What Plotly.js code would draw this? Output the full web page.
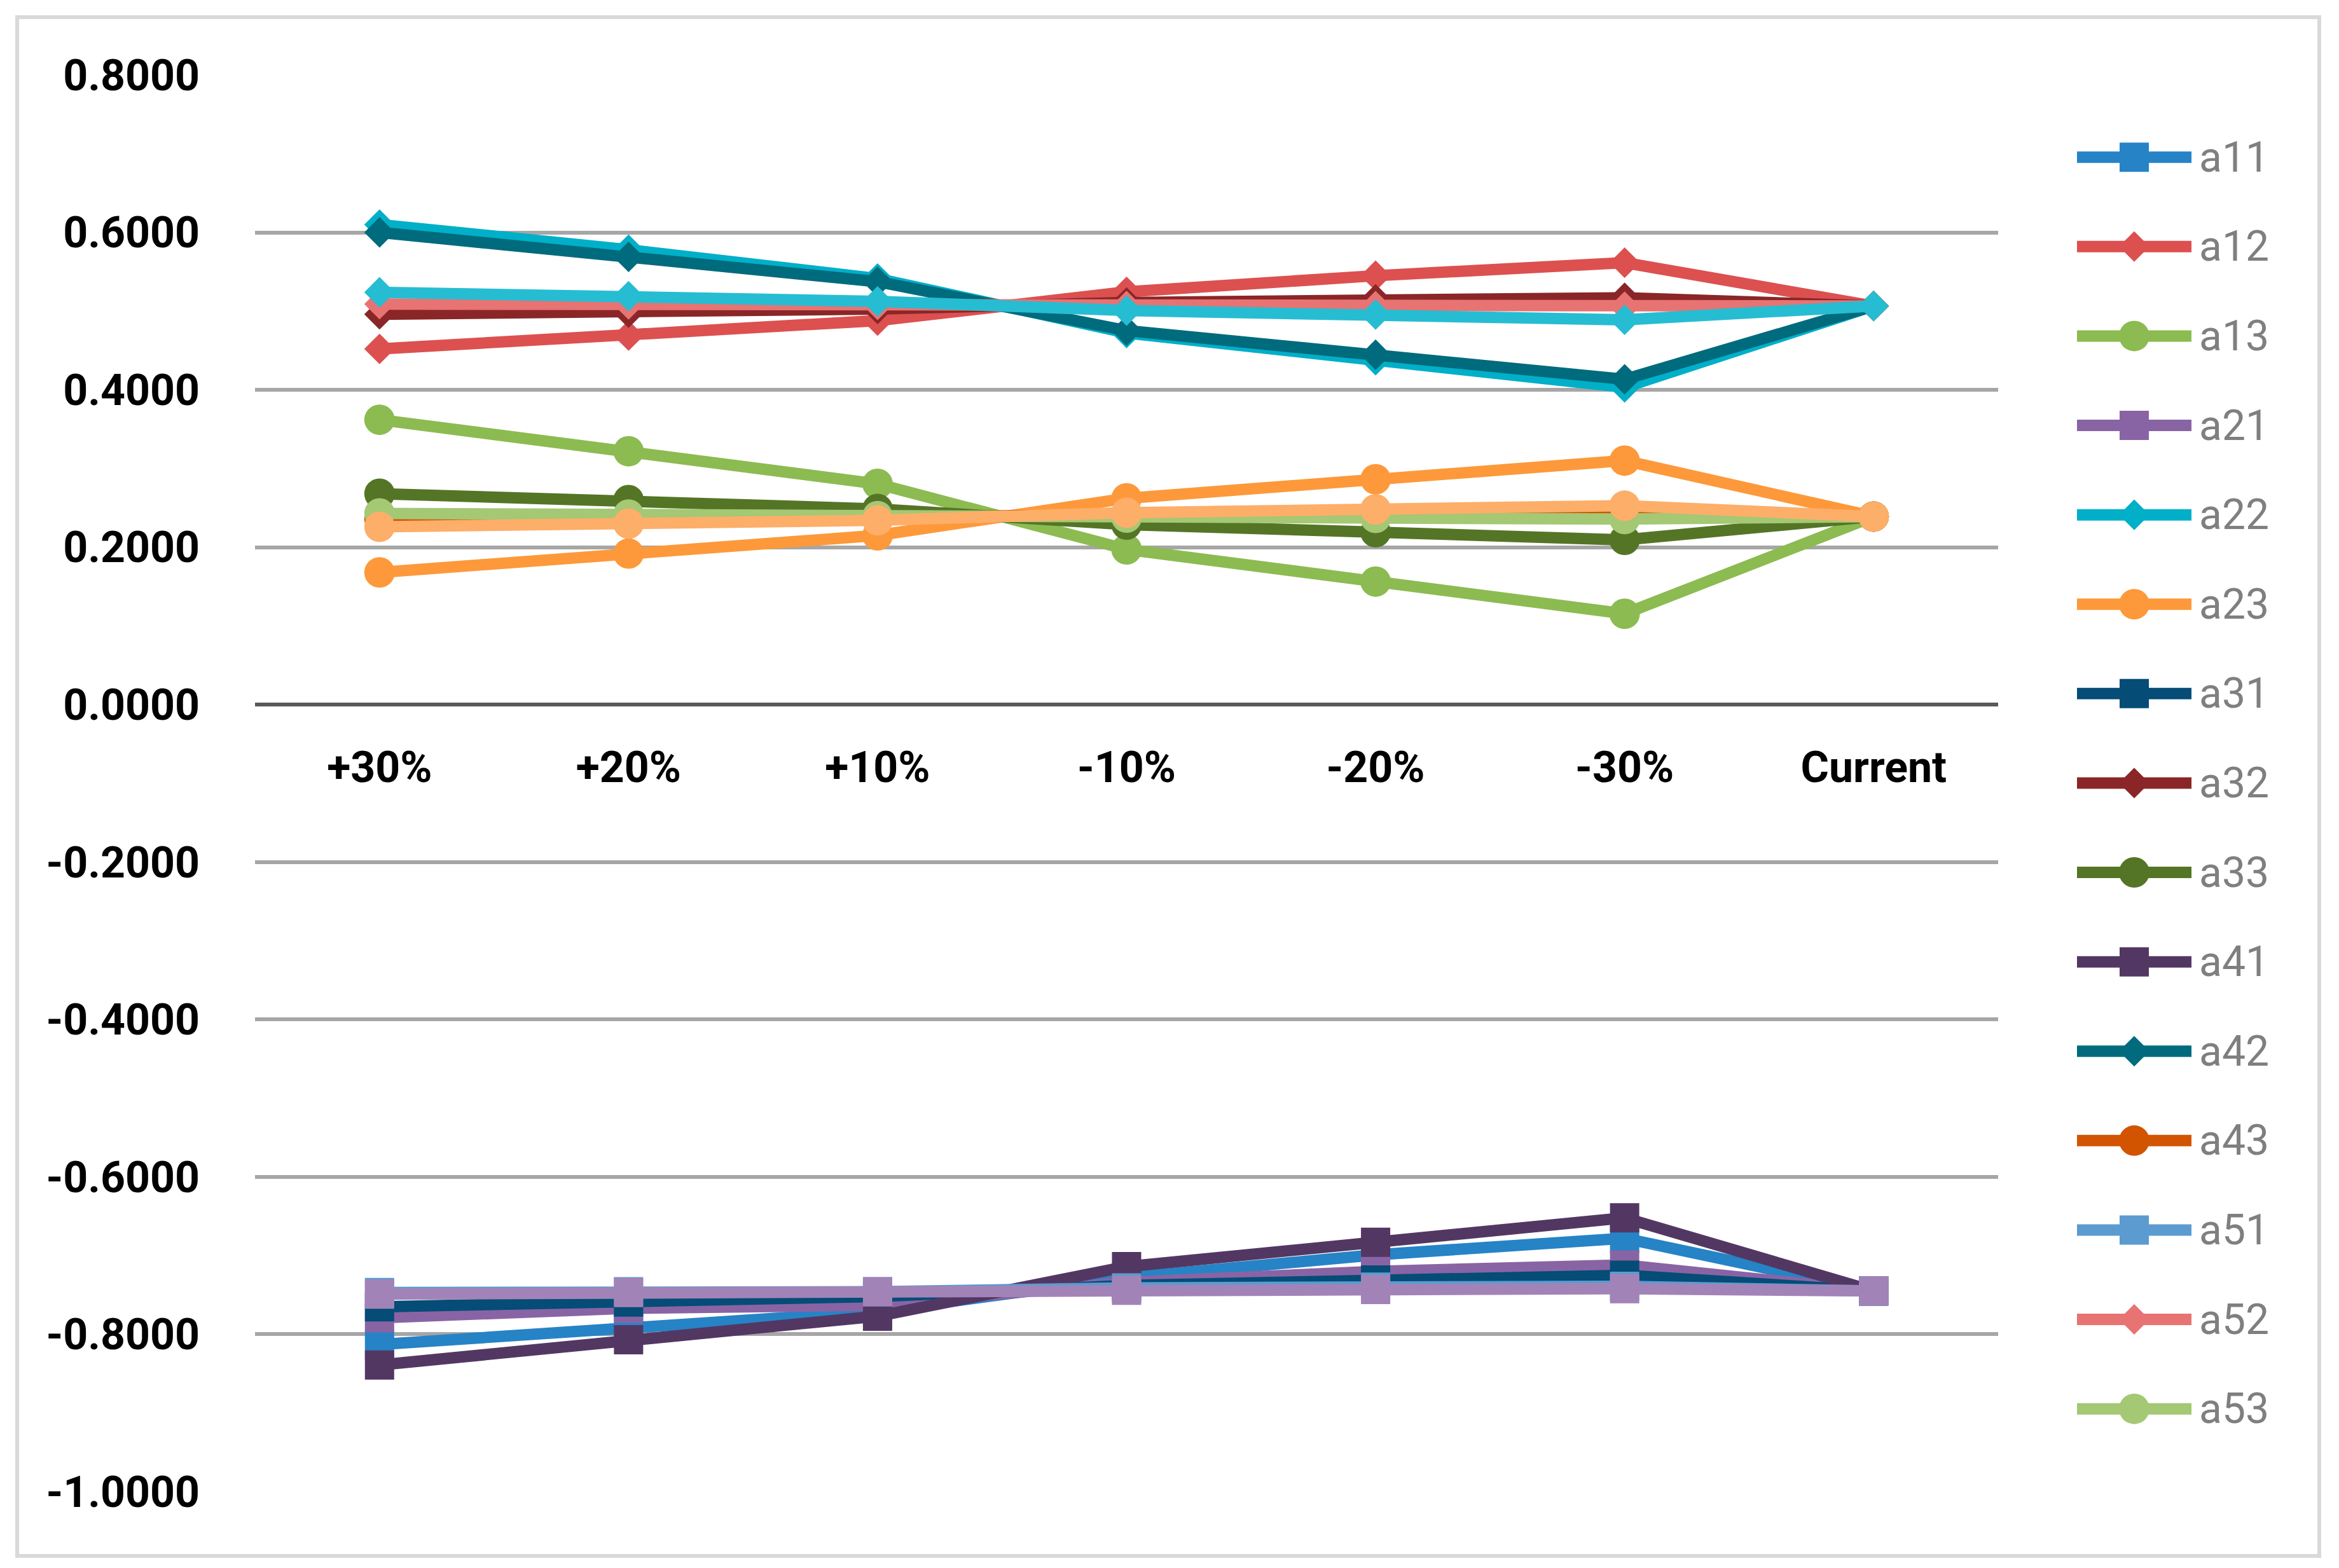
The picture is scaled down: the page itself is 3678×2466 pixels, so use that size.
<!DOCTYPE html>
<html>
<head>
<meta charset="utf-8">
<script src="https://cdn.plot.ly/plotly-3.0.1.min.js"></script>
<style>html,body{margin:0;padding:0;background:#fff;}#chart{width:3678px;height:2466px;}</style>
</head>
<body>
<div id="chart"></div>
<script>
// ---- data ----
const categories = ['+30%', '+20%', '+10%', '-10%', '-20%', '-30%', 'Current'];

const a11 = [-0.813, -0.791, -0.771, -0.728, -0.699, -0.678, -0.745];
const a12 = [0.452, 0.469, 0.488, 0.5245, 0.545, 0.5616, 0.5065];
const a13 = [0.362, 0.322, 0.2805, 0.1973, 0.1564, 0.1155, 0.239];
const a21 = [-0.779, -0.767, -0.763, -0.734, -0.720, -0.712, -0.745];
const a22 = [0.610, 0.578, 0.5414, 0.4723, 0.4376, 0.4032, 0.5065];
const a23 = [0.168, 0.192, 0.2151, 0.2622, 0.2864, 0.3101, 0.239];
const a31 = [-0.765, -0.759, -0.752, -0.738, -0.731, -0.725, -0.745];
const a32 = [0.496, 0.498, 0.5027, 0.511, 0.515, 0.517, 0.5065];
const a33 = [0.268, 0.260, 0.2487, 0.2288, 0.2191, 0.2094, 0.239];
const a41 = [-0.839, -0.807, -0.777, -0.714, -0.683, -0.652, -0.745];
const a42 = [0.600, 0.569, 0.5374, 0.4753, 0.4446, 0.4134, 0.5065];
const a43 = [0.236, 0.237, 0.238, 0.241, 0.243, 0.244, 0.239];
const a51 = [-0.747, -0.746, -0.746, -0.741, -0.740, -0.739, -0.745];
const a52 = [0.509, 0.5085, 0.508, 0.5065, 0.5063, 0.5056, 0.5065];
const a53 = [0.243, 0.2415, 0.2396, 0.2377, 0.2372, 0.2358, 0.239];
const a61 = [-0.749, -0.747, -0.746, -0.744, -0.743, -0.742, -0.745];
const a62 = [0.524, 0.519, 0.5124, 0.5008, 0.4957, 0.489, 0.5065];
const a63 = [0.226, 0.230, 0.2342, 0.2439, 0.2482, 0.2528, 0.239];

const seriesNames = ['a11','a12','a13','a21','a22','a23','a31','a32','a33','a41','a42','a43','a51','a52','a53','a61','a62','a63'];
const seriesValues = [a11,a12,a13,a21,a22,a23,a31,a32,a33,a41,a42,a43,a51,a52,a53,a61,a62,a63];
const legendNames = ['a11','a12','a13','a21','a22','a23','a31','a32','a33','a41','a42','a43','a51','a52','a53'];

const yTickVals = [0.8, 0.6, 0.4, 0.2, 0.0, -0.2, -0.4, -0.6, -0.8, -1.0];
const yTickText = ['0.8000', '0.6000', '0.4000', '0.2000', '0.0000', '-0.2000', '-0.4000', '-0.6000', '-0.8000', '-1.0000'];

// ---- styles ----
const colors = {
  a11:'#2683C6', a12:'#DD5050', a13:'#8CBB51',
  a21:'#8964A4', a22:'#01AFC8', a23:'#FD993A',
  a31:'#054C77', a32:'#8A2627', a33:'#547526',
  a41:'#533763', a42:'#006B7D', a43:'#D35400',
  a51:'#5B9BD0', a52:'#E87373', a53:'#A4C874',
  a61:'#A283B8', a62:'#26BDD3', a63:'#FDAE69'
};
const symbolFor = n => ({'1':'square','2':'diamond','3':'circle'})[n.charAt(2)];
const sizeFor = s => s === 'diamond' ? 37 : (s === 'square' ? 46 : 48);
const LW = 18;
const FONT = 'Roboto, "Liberation Sans", sans-serif';

const traces = [];
seriesNames.forEach((name, i) => {
  const sym = symbolFor(name);
  traces.push({
    type: 'scatter', mode: 'lines+markers', name: name,
    x: categories, y: seriesValues[i],
    xaxis: 'x', yaxis: 'y',
    line: {color: colors[name], width: LW},
    marker: {symbol: sym, size: sizeFor(sym), color: colors[name], opacity: 1, line: {width: 0}},
    cliponaxis: false, hoverinfo: 'skip'
  });
});

// custom legend, drawn on its own small axes
const annotations = [];
legendNames.forEach((name, i) => {
  const sym = symbolFor(name);
  traces.push({
    type: 'scatter', mode: 'lines+markers', name: name + ' legend',
    x: [0, 1, 2], y: [-i, -i, -i],
    xaxis: 'x2', yaxis: 'y2',
    line: {color: colors[name], width: LW},
    marker: {symbol: sym, size: [0, sizeFor(sym), 0], color: colors[name], opacity: 1, line: {width: 0}},
    cliponaxis: false, hoverinfo: 'skip', showlegend: false
  });
  annotations.push({
    xref: 'x2', yref: 'y2', x: 2, y: -i, xshift: 10,
    xanchor: 'left', yanchor: 'middle', showarrow: false,
    text: name, font: {family: FONT, size: 66, color: '#7F7F7F'}
  });
});

const layout = {
  width: 3678, height: 2466,
  margin: {l: 0, r: 0, t: 0, b: 0, pad: 0},
  paper_bgcolor: '#FFFFFF', plot_bgcolor: '#FFFFFF',
  showlegend: false,
  xaxis: {
    type: 'category', range: [-0.5, 6.5],
    domain: [0.10903, 0.85427],
    anchor: 'free', position: 0.55069,
    showline: true, linecolor: '#595959', linewidth: 6,
    showgrid: false, zeroline: false, ticks: '',
    ticklabelstandoff: 37,
    tickfont: {family: FONT, size: 68, color: '#000000', weight: 'bold'},
    automargin: false, fixedrange: true
  },
  yaxis: {
    range: [-1.0, 0.8], domain: [0.04866, 0.95215],
    tickmode: 'array', tickvals: yTickVals, ticktext: yTickText,
    showgrid: true, gridcolor: '#A6A6A6', gridwidth: 6,
    zeroline: false, showline: false, ticks: '',
    ticklabelstandoff: 86,
    tickfont: {family: FONT, size: 68, color: '#000000', weight: 'bold'},
    automargin: false, fixedrange: true
  },
  xaxis2: {
    domain: [0.88798, 0.94182], range: [0, 2.2], anchor: 'y2',
    visible: false, fixedrange: true
  },
  yaxis2: {
    domain: [0.04866, 0.95215], range: [-14.927, 0.919], anchor: 'x2',
    visible: false, fixedrange: true
  },
  annotations: annotations,
  shapes: [{
    type: 'rect', xref: 'paper', yref: 'paper',
    x0: 0.00734, x1: 0.99157, y0: 0.0077, y1: 0.98905,
    line: {color: '#D9D9D9', width: 6}, fillcolor: 'rgba(0,0,0,0)', layer: 'below'
  }]
};

Plotly.newPlot('chart', traces, layout, {staticPlot: true, displayModeBar: false});
</script>
</body>
</html>
